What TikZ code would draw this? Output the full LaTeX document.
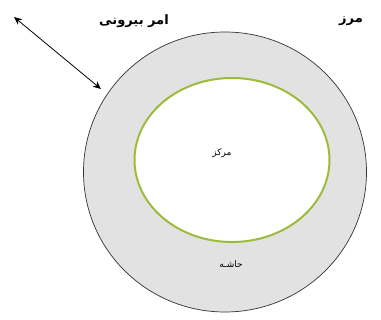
\documentclass[tikz,border=0pt]{standalone}
\usepackage{fontspec}
\newfontfamily\arabicfont[Script=Arabic]{DejaVu Sans}
\TeXXeTstate=1
\usetikzlibrary{arrows.meta,shapes.geometric}
\definecolor{ringgray}{HTML}{E2E2E2}
\definecolor{coregreen}{HTML}{9CBC3C}
\tikzset{
  lbl/.style={font=\arabicfont\bfseries\fontsize{13}{15}\selectfont, inner sep=0pt},
  small/.style={font=\arabicfont\fontsize{9}{10}\selectfont, inner sep=0pt},
}
\begin{document}
\begin{tikzpicture}[x=1pt,y=-1pt]
\useasboundingbox (0,0) rectangle (381,320);
\fill[white] (0,0) rectangle (381,320);
\node[draw=black!80, line width=0.7pt, fill=ringgray, ellipse, minimum width=283pt, minimum height=280pt, inner sep=0pt] (outer) at (225,172) {};
\node[draw=coregreen, line width=2pt, fill=white, ellipse, minimum width=195pt, minimum height=164pt, inner sep=0pt] (inner) at (232,160) {};
\node[lbl] (border) at (351,21) {\beginR مرز\endR};
\node[lbl] (ext) at (134,21) {\beginR امر بیرونی\endR};
\node[small] (center) at (222,153) {\beginR مرکز\endR};
\node[small] (margin) at (231,264) {\beginR حاشـه\endR};
\coordinate (a1) at (14,17);
\coordinate (a2) at (101,89);
\draw[{Stealth[length=8pt,width=7pt]}-{Stealth[length=8pt,width=7pt]}, line width=0.8pt] (a1) -- (a2);
\end{tikzpicture}
\end{document}
